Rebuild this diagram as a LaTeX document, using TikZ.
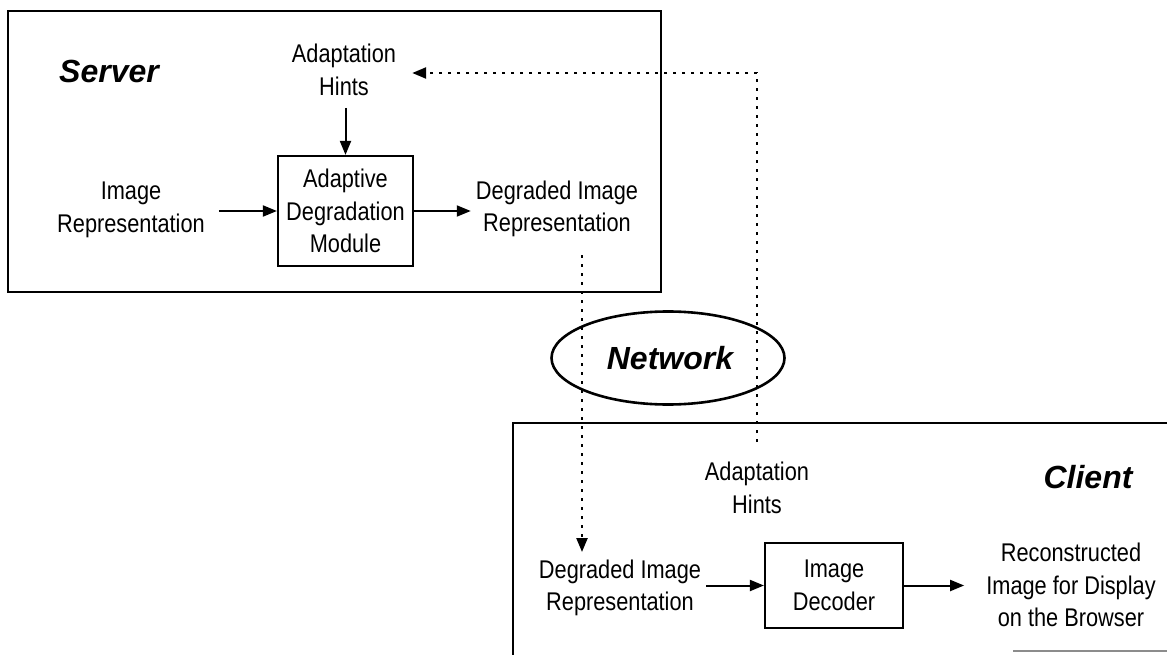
\documentclass[tikz,border=0pt]{standalone}
\usepackage{fontspec}
\setmainfont{Liberation Sans}[FakeStretch=0.85]
\newfontfamily\titlefam{Liberation Sans}
\usetikzlibrary{arrows.meta,shapes.geometric}
\tikzset{
  lbl/.style={inner sep=0pt, align=center, font=\fontsize{25.6}{32.5}\selectfont},
  ttl/.style={inner sep=0pt, font=\titlefam\fontsize{32}{38}\selectfont\bfseries\itshape},
  blk/.style={draw, line width=2.2pt, inner sep=0pt, align=center, font=\fontsize{25.6}{32.5}\selectfont},
  frame/.style={line width=2.8pt},
  arr/.style={line width=2pt, -{Triangle[length=14pt,width=11pt]}},
  dotarr/.style={line width=2.4pt, dash pattern=on 3pt off 6pt, -{Triangle[length=14pt,width=11pt]}},
}
\begin{document}
\begin{tikzpicture}[x=1pt,y=-1pt]
\useasboundingbox (0,0) rectangle (1167,655);
% frames
\draw[frame] (8,11) rectangle (661,292);
\draw[frame] (513,660) -- (513,423) -- (1175,423);
\draw[line width=1.2pt, black!45] (1013,651) -- (1175,651);
% server side
\node[ttl] (server) at (109,71) {Server};
\node[lbl] (hints1) at (344,70) {Adaptation\\Hints};
\node[blk, minimum width=135pt, minimum height=110pt] (adm) at (345.5,211) {Adaptive\\Degradation\\Module};
\node[lbl] (imgrep) at (131,210) {Image\\Representation};
\node[lbl] (deg1) at (557,209) {Degraded Image\\Representation};
\draw[arr, shorten <=12pt] (hints1.south -| adm.north) -- (adm.north);
\draw[arr, shorten <=14pt] (imgrep.east |- adm.west) -- (adm.west);
\draw[arr, shorten >=5pt] (adm.east) -- (adm.east -| deg1.west);
% network
\node[draw, ellipse, line width=2.6pt, minimum width=233pt, minimum height=93pt, inner sep=0pt] (net) at (668,358) {};
\node[ttl] (netlbl) at (670,358) {Network};
% client side
\node[ttl] (client) at (1088,477) {Client};
\node[lbl] (hints2) at (757,488) {Adaptation\\Hints};
\node[lbl] (deg2) at (620,588) {Degraded Image\\Representation};
\node[blk, minimum width=138pt, minimum height=85pt] (dec) at (834,585.5) {Image\\Decoder};
\node[lbl] (recon) at (1071,585) {Reconstructed\\Image for Display\\on the Browser};
\draw[arr, shorten <=5pt] (deg2.east |- dec.west) -- (dec.west);
\draw[arr, shorten >=22pt] (dec.east) -- (dec.east -| recon.west);
% dotted connectors
\coordinate (down1) at (582,255);
\coordinate (down2) at (582,552);
\draw[dotarr] (down1) -- (down2);
\coordinate (up1) at (757,442);
\coordinate (corner) at (757,73);
\draw[dotarr, shorten >=16pt] (up1) -- (corner) -- (corner -| hints1.east);
\end{tikzpicture}
\end{document}
